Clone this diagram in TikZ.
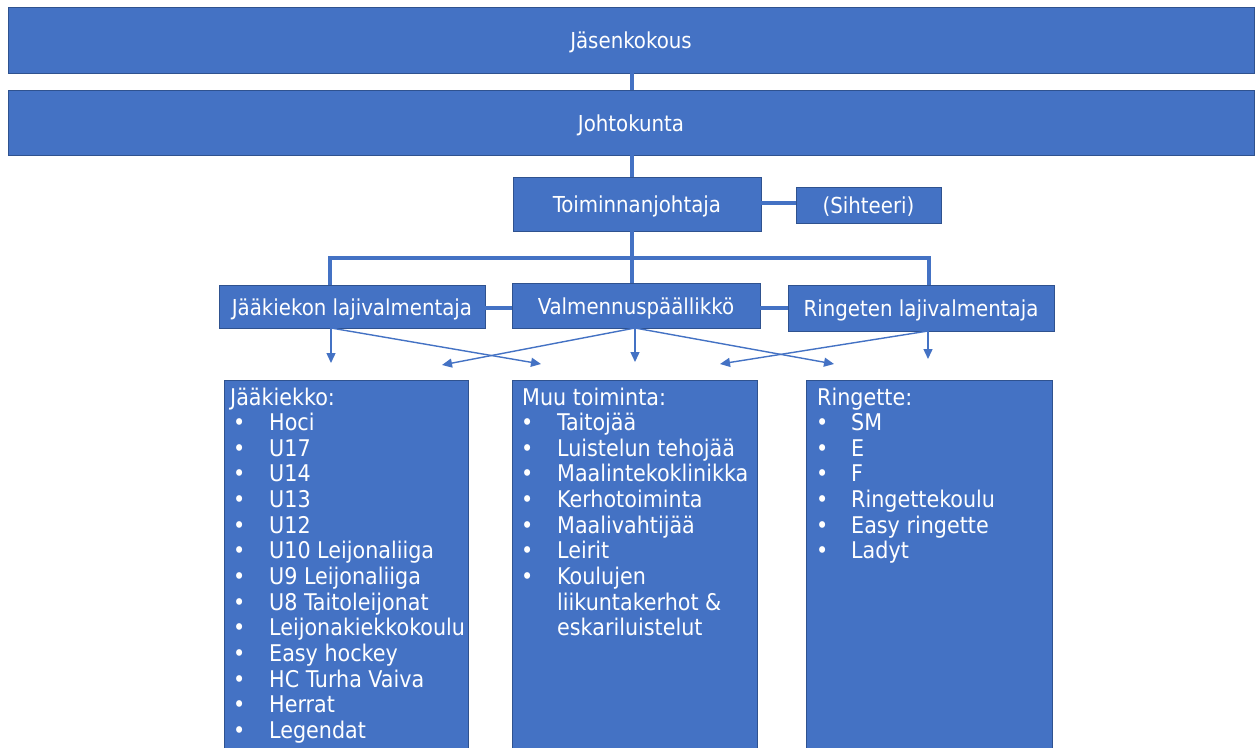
\documentclass[tikz,border=0pt]{standalone}
\usepackage{fontspec}
\setmainfont{DejaVu Sans Condensed}
\usetikzlibrary{calc, positioning, arrows.meta}

\definecolor{orgblue}{HTML}{4472C4}
\definecolor{orgedge}{HTML}{2F528F}

\tikzset{
  orgbox/.style={draw=orgedge, line width=0.8pt, fill=orgblue, text=white, inner sep=0pt,
                 text height=21pt, text depth=4pt, font=\fontsize{22}{26}\selectfont},
  link/.style={draw=orgblue, line width=4pt},
  pointer/.style={draw=orgblue, line width=1.4pt, -{Triangle[length=10pt,width=9pt]}},
  listline/.style={text=white, inner sep=0pt, anchor=base west, font=\fontsize{23}{26}\selectfont},
}

\begin{document}
\begin{tikzpicture}[x=1pt, y=-1pt]
\useasboundingbox (0,0) rectangle (1260,747);
\fill[white] (0,0) rectangle (1260,747);

% hallinto
\node[orgbox, minimum width=1246pt, minimum height=66pt] (jasen) at (631,40) {Jäsenkokous};
\node[orgbox, minimum width=1246pt, minimum height=65pt] (johto) at (631,122.5) {Johtokunta};
\node[orgbox, minimum width=248pt, minimum height=54pt] (toim) at (637,204) {Toiminnanjohtaja};
\node[orgbox, minimum width=145pt, minimum height=36pt] (siht) at (868.5,205) {(Sihteeri)};

% valmentajat
\node[orgbox, minimum width=266pt, minimum height=43pt] (jlv) at (352,306.5) {Jääkiekon lajivalmentaja};
\node[orgbox, minimum width=248pt, minimum height=45pt] (valm) at (636,305.5) {Valmennuspäällikkö};
\node[orgbox, minimum width=266pt, minimum height=46pt] (rlv) at (921,308) {Ringeten lajivalmentaja};

\coordinate (spine) at (632,0);
\coordinate (bar) at (632,258);

\draw[link] (jasen.south -| spine) -- (johto.north -| spine);
\draw[link] (johto.south -| spine) -- (toim.north -| spine);
\draw[link] (toim.south -| spine) -- (valm.north -| spine);
\draw[link] (toim.east) ++ (0,-1) -- (siht.west |- 0,203);
\draw[link] ($(jlv.north)+(-22,0)$) |- (bar) -| ($(rlv.north)+(8,0)$);
\draw[link] (jlv.east |- 0,308) -- (valm.west |- 0,308);
\draw[link] (valm.east |- 0,308) -- (rlv.west |- 0,308);

% ryhmat
\node[orgbox, anchor=north, minimum width=244pt, minimum height=390pt] (jk) at (346,380) {};
\node[orgbox, anchor=north, minimum width=245pt, minimum height=390pt] (muu) at (634.5,380) {};
\node[orgbox, anchor=north, minimum width=246pt, minimum height=390pt] (ring) at (929,380) {};

% nuolet
\coordinate (jlvfoot) at (331,328);
\coordinate (valmfoot) at (635,328);
\coordinate (rlvfoot) at (928,331);
\draw[pointer] (jlvfoot) -- (331,363);
\draw[pointer] (jlvfoot) -- (541,364);
\draw[pointer] (valmfoot) -- (635,362);
\draw[pointer] (valmfoot) -- (442,365);
\draw[pointer] (valmfoot) -- (834,364);
\draw[pointer] (rlvfoot) -- (928,359);
\draw[pointer] (rlvfoot) -- (720,364);

% listat
\node[listline] (jktitle) at (230,405) {Jääkiekko:};
\foreach \lbl [count=\i] in {Hoci, U17, U14, U13, U12, U10 Leijonaliiga, U9 Leijonaliiga,
    U8 Taitoleijonat, Leijonakiekkokoulu, Easy hockey, HC Turha Vaiva, Herrat, Legendat} {
  \node[listline] (jkb\i) at (233,405+25.65*\i) {\textbullet};
  \node[listline] (jk\i) at (269,405+25.65*\i) {\lbl};
}

\node[listline] (muutitle) at (522,405) {Muu toiminta:};
\foreach \lbl [count=\i] in {Taitojää, Luistelun tehojää, Maalintekoklinikka, Kerhotoiminta,
    Maalivahtijää, Leirit, Koulujen} {
  \node[listline] (muub\i) at (521,405+25.65*\i) {\textbullet};
  \node[listline] (muu\i) at (557,405+25.65*\i) {\lbl};
}
\node[listline] (muu8) at (557,405+25.65*8) {liikuntakerhot \&};
\node[listline] (muu9) at (557,405+25.65*9) {eskariluistelut};

\node[listline] (ringtitle) at (817,405) {Ringette:};
\foreach \lbl [count=\i] in {SM, E, F, Ringettekoulu, Easy ringette, Ladyt} {
  \node[listline] (ringb\i) at (816,405+25.65*\i) {\textbullet};
  \node[listline] (ring\i) at (851,405+25.65*\i) {\lbl};
}
\end{tikzpicture}
\end{document}
